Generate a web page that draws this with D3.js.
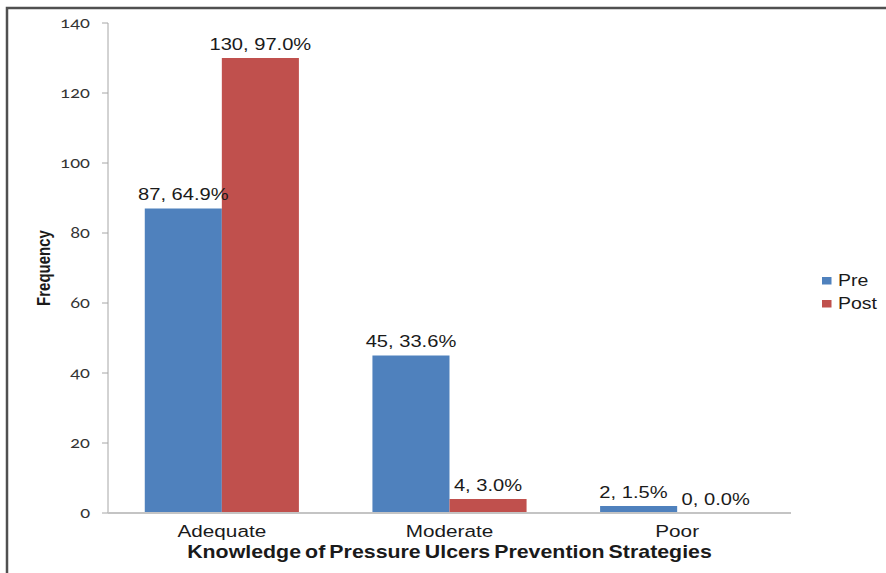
<!DOCTYPE html>
<html>
<head>
<meta charset="utf-8">
<script src="https://cdn.jsdelivr.net/npm/d3@7"></script>
<style>
  html, body { margin: 0; padding: 0; background: #fff; }
  svg { display: block; }
  text { font-family: "Liberation Sans", Arial, sans-serif; fill: #1a1a1a; }
  .tick-label { font-family: Lato, "Noto Sans", sans-serif; font-feature-settings: "onum" 1; font-variant-numeric: oldstyle-nums; fill: #333; }
</style>
</head>
<body>
<div id="chart"></div>
<script>
// Knowledge of pressure ulcer prevention strategies, before and after
const categories = ["Adequate", "Moderate", "Poor"];
const series = ["Pre", "Post"];
const preCounts = [87, 45, 2];
const postCounts = [130, 4, 0];
const prePercents = [64.9, 33.6, 1.5];
const postPercents = [97.0, 3.0, 0.0];
const yTicks = [0, 20, 40, 60, 80, 100, 120, 140];
const colors = { Pre: "#4f81bd", Post: "#c0504d" };

const width = 886, height = 573;
// drawing is done in a horizontally widened coordinate system
const sx = 1.22;
const vbW = width / sx;
const X = px => px / sx;

const plot = { left: 108, right: 791, top: 23, bottom: 513 };

const rows = categories.map((c, i) => ({
  category: c,
  values: [
    { series: "Pre", count: preCounts[i], pct: prePercents[i] },
    { series: "Post", count: postCounts[i], pct: postPercents[i] }
  ]
}));

const svg = d3.select("#chart").append("svg")
  .attr("width", width).attr("height", height)
  .attr("viewBox", `0 0 ${vbW} ${height}`)
  .attr("preserveAspectRatio", "none");

// frame
svg.append("path")
  .attr("d", `M${X(7)},${height} L${X(7)},8 L${vbW},8`)
  .attr("fill", "none").attr("stroke", "#505050").attr("stroke-width", 2.5)
  .attr("vector-effect", "non-scaling-stroke");

const x0 = d3.scaleBand(categories, [X(plot.left), X(plot.right)])
  .paddingInner(0.323).paddingOuter(0.1615);
const x1 = d3.scaleBand(series, [0, x0.bandwidth()]);
const y = d3.scaleLinear([0, 140], [plot.bottom, plot.top]);

// y axis
const yAxis = svg.append("g").attr("transform", `translate(${X(plot.left)},0)`);
yAxis.append("line")
  .attr("y1", y(0)).attr("y2", y(140))
  .attr("stroke", "#a6a6a6").attr("stroke-width", 1)
  .attr("vector-effect", "non-scaling-stroke");
yAxis.selectAll("line.tick").data(yTicks).join("line")
  .attr("class", "tick")
  .attr("x1", X(-6)).attr("x2", 0)
  .attr("y1", d => y(d)).attr("y2", d => y(d))
  .attr("stroke", "#a6a6a6").attr("stroke-width", 1)
  .attr("vector-effect", "non-scaling-stroke");
yAxis.selectAll("text").data(yTicks).join("text")
  .attr("class", "tick-label")
  .attr("x", X(-18)).attr("y", d => y(d)).attr("dy", "0.35em")
  .attr("text-anchor", "end").attr("font-size", 15)
  .text(d => d);

// bars
const groups = svg.selectAll("g.group").data(rows).join("g")
  .attr("class", "group")
  .attr("transform", d => `translate(${x0(d.category)},0)`);

groups.selectAll("rect").data(d => d.values).join("rect")
  .attr("x", d => x1(d.series))
  .attr("width", x1.bandwidth())
  .attr("y", d => y(d.count))
  .attr("height", d => y(0) - y(d.count))
  .attr("fill", d => colors[d.series]);

groups.each(function () {
  const labels = d3.select(this).selectAll("text").data(d => d.values).join("text")
    .attr("x", d => x1(d.series) + x1.bandwidth() / 2)
    .attr("y", d => y(d.count) - 8)
    .attr("text-anchor", "middle").attr("font-size", 16.5)
    .text(d => `${d.count}, ${d.pct.toFixed(1)}%`);
  // keep side-by-side labels at similar heights apart
  const nodes = labels.nodes();
  if (nodes.length === 2) {
    const [a, b] = nodes.map(n => ({ n, box: n.getBBox() }));
    if (Math.abs(a.box.y - b.box.y) < a.box.height) {
      const gap = b.box.x - (a.box.x + a.box.width);
      const minGap = X(14);
      if (gap < minGap) {
        d3.select(a.n).attr("x", +d3.select(a.n).attr("x") - (minGap - gap));
      }
    }
  }
});

// x axis
svg.append("line")
  .attr("x1", X(plot.left)).attr("x2", X(plot.right))
  .attr("y1", y(0)).attr("y2", y(0))
  .attr("stroke", "#c4c4c4").attr("stroke-width", 2)
  .attr("vector-effect", "non-scaling-stroke");

svg.selectAll("text.cat").data(categories).join("text")
  .attr("class", "cat")
  .attr("x", d => x0(d) + x0.bandwidth() / 2)
  .attr("y", 537)
  .attr("text-anchor", "middle").attr("font-size", 17)
  .text(d => d);

// axis titles
svg.append("text")
  .attr("x", (X(plot.left) + X(plot.right)) / 2).attr("y", 558)
  .attr("text-anchor", "middle").attr("font-size", 17.5).attr("font-weight", "bold")
  .attr("word-spacing", -1.5)
  .text("Knowledge of Pressure Ulcers Prevention Strategies");

svg.append("text")
  .attr("transform", `translate(${X(50)},${(plot.top + plot.bottom) / 2}) rotate(-90)`)
  .attr("text-anchor", "middle").attr("font-size", 15).attr("font-weight", "bold")
  .text("Frequency");

// legend
const legend = svg.selectAll("g.legend").data(series).join("g")
  .attr("class", "legend")
  .attr("transform", (d, i) => `translate(${X(822)},${277 + i * 23})`);
legend.append("rect")
  .attr("width", X(9.5)).attr("height", 7.5)
  .attr("fill", d => colors[d]);
legend.append("text")
  .attr("x", X(16)).attr("y", 9)
  .attr("font-size", 16)
  .text(d => d);
</script>
</body>
</html>
